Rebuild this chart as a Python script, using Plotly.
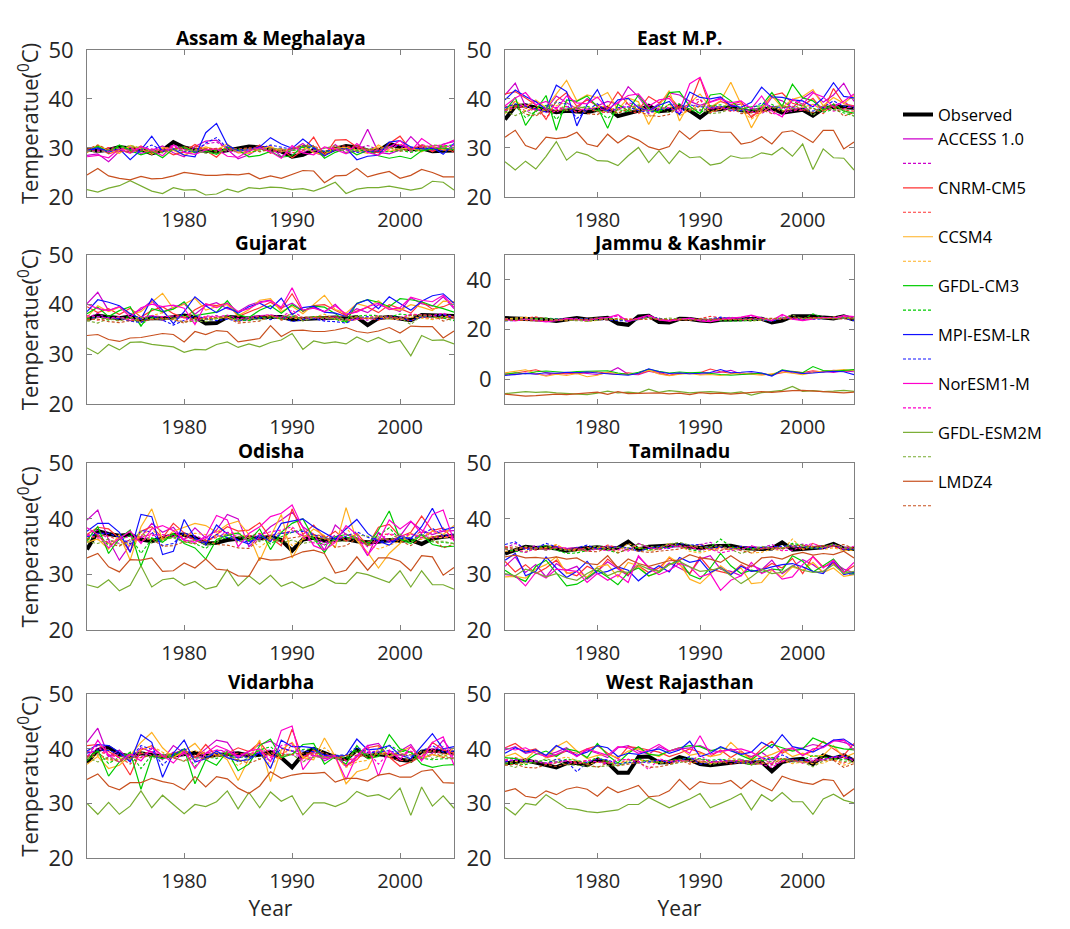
import plotly.graph_objects as go

years = list(range(1971, 2006))

# ---------------- Assam & Meghalaya ----------------
assam_obs = [29.8, 29.4, 29.6, 30.2, 29.9, 29.7, 28.9, 29.5, 31.2, 30.1, 29.6, 29.4, 29.2, 29.5, 29.8, 30.3, 30.1, 29.7, 29.3, 28.2, 28.6, 29.6, 28.9, 29.8, 30.4, 30.1, 29.5, 29.4, 30.8, 30.2, 29.7, 29.9, 29.3, 29.4, 29.5]
assam_access = [28.5, 28.8, 27.2, 29.3, 30.1, 28.9, 29.5, 30.4, 29.0, 28.2, 30.3, 31.4, 31.6, 29.6, 27.8, 28.6, 29.9, 30.4, 28.2, 29.6, 30.9, 29.1, 28.4, 30.7, 28.9, 29.4, 33.8, 29.1, 28.8, 29.6, 32.3, 30.1, 29.4, 30.8, 31.3]
assam_access_bc = [29.5, 29.2, 29.9, 30.0, 29.6, 29.8, 29.1, 29.7, 30.6, 29.9, 29.4, 30.8, 31.2, 29.8, 29.5, 30.0, 29.8, 29.6, 29.5, 28.9, 29.1, 29.8, 29.2, 29.6, 30.1, 29.9, 30.5, 29.6, 30.3, 30.6, 29.8, 30.2, 29.6, 29.7, 30.0]
assam_cnrm = [29.6, 30.2, 28.8, 29.5, 29.2, 30.4, 29.1, 29.8, 28.6, 29.2, 30.7, 29.5, 28.1, 30.3, 29.0, 29.3, 30.6, 28.9, 29.9, 28.0, 29.5, 32.2, 28.4, 31.6, 31.7, 30.2, 29.6, 29.0, 30.9, 32.4, 29.5, 30.6, 29.2, 30.4, 29.1]
assam_cnrm_bc = [29.7, 29.6, 30.1, 29.8, 29.5, 30.0, 29.4, 29.9, 30.2, 29.8, 30.4, 29.7, 29.3, 29.9, 29.6, 29.9, 30.2, 29.5, 29.8, 29.0, 29.4, 30.5, 29.1, 30.3, 30.4, 29.8, 29.7, 29.5, 30.4, 30.8, 29.6, 30.1, 29.5, 29.9, 29.6]
assam_ccsm4 = [29.0, 30.6, 29.4, 28.9, 30.5, 29.8, 28.7, 30.1, 29.5, 28.6, 29.3, 30.2, 29.6, 30.8, 29.1, 28.9, 29.7, 30.3, 29.2, 29.8, 30.5, 29.0, 28.7, 29.9, 30.1, 29.4, 28.9, 30.6, 29.3, 29.7, 30.0, 29.2, 30.4, 29.5, 30.2]
assam_ccsm4_bc = [29.6, 30.0, 29.7, 29.5, 30.1, 29.8, 29.3, 29.9, 30.0, 29.4, 29.6, 29.9, 29.7, 30.2, 29.5, 29.4, 29.8, 30.0, 29.6, 29.7, 30.1, 29.5, 29.3, 29.8, 29.9, 29.6, 29.4, 30.2, 29.7, 29.8, 30.0, 29.6, 30.1, 29.7, 30.0]
assam_gfdlcm3 = [29.2, 30.4, 29.0, 30.6, 29.5, 28.6, 29.3, 28.0, 29.8, 30.2, 29.0, 29.4, 28.7, 30.1, 29.6, 28.2, 28.5, 29.3, 28.1, 28.4, 30.4, 30.3, 27.9, 29.1, 29.9, 28.6, 29.5, 28.4, 27.9, 28.3, 27.8, 29.4, 29.8, 30.0, 29.6]
assam_gfdlcm3_bc = [29.5, 30.1, 29.4, 30.2, 29.7, 29.3, 29.6, 29.1, 29.8, 30.0, 29.5, 29.7, 29.4, 30.0, 29.8, 29.2, 29.4, 29.7, 29.3, 29.4, 30.1, 30.0, 29.2, 29.6, 29.9, 29.4, 29.7, 29.3, 29.2, 29.5, 29.1, 29.6, 29.8, 30.4, 30.6]
assam_mpi = [29.5, 30.0, 29.2, 29.8, 27.6, 29.6, 32.4, 29.3, 29.8, 28.5, 28.2, 33.1, 35.0, 30.6, 29.4, 29.6, 30.2, 32.1, 30.8, 29.9, 31.8, 30.0, 28.4, 29.6, 29.9, 27.6, 28.3, 28.5, 31.2, 31.5, 30.2, 29.7, 30.1, 28.7, 30.9]
assam_mpi_bc = [29.6, 29.8, 29.5, 29.7, 29.0, 29.6, 30.6, 29.5, 29.7, 29.3, 29.2, 31.0, 32.1, 30.0, 29.6, 29.7, 29.9, 30.6, 30.1, 29.7, 30.5, 29.9, 29.3, 29.6, 29.8, 29.1, 29.3, 29.4, 30.4, 30.5, 30.0, 29.8, 29.9, 29.4, 30.1]
assam_noresm = [28.2, 28.5, 28.0, 29.8, 28.9, 30.2, 29.5, 28.4, 30.6, 29.1, 28.7, 29.6, 29.8, 28.3, 28.1, 29.4, 30.0, 29.2, 27.9, 30.5, 29.0, 28.6, 30.2, 29.7, 28.8, 30.9, 29.1, 28.5, 30.1, 31.5, 29.3, 31.9, 30.4, 30.6, 31.6]
assam_noresm_bc = [29.3, 29.4, 29.2, 29.9, 29.5, 30.1, 29.8, 29.4, 30.2, 29.6, 29.4, 29.8, 29.9, 29.3, 29.2, 29.7, 30.0, 29.6, 29.1, 30.2, 29.6, 29.4, 30.0, 29.8, 29.5, 30.3, 29.6, 29.4, 30.0, 30.6, 29.7, 30.7, 30.1, 30.2, 30.5]
assam_gfdlesm = [21.5, 21.0, 21.8, 22.3, 23.3, 22.2, 21.2, 20.7, 21.9, 21.4, 21.5, 20.4, 20.6, 21.6, 21.0, 21.9, 21.7, 22.0, 21.9, 21.5, 21.7, 21.2, 22.0, 23.0, 20.7, 21.6, 21.9, 21.9, 22.2, 21.8, 21.4, 21.8, 23.2, 23.0, 21.4]
assam_gfdlesm_bc = [29.4, 29.1, 29.6, 29.9, 30.5, 30.0, 29.3, 29.0, 29.7, 29.4, 29.5, 28.9, 29.0, 29.6, 29.3, 29.8, 29.7, 29.9, 29.8, 29.5, 29.7, 29.4, 29.9, 30.5, 29.1, 29.6, 29.8, 29.8, 30.0, 29.7, 29.5, 29.7, 30.6, 30.5, 29.5]
assam_lmdz = [24.5, 25.8, 24.3, 23.8, 23.5, 24.2, 23.7, 23.8, 24.3, 25.0, 24.7, 24.4, 24.4, 24.6, 24.5, 24.8, 23.7, 24.3, 23.8, 24.6, 25.4, 25.3, 22.9, 24.3, 24.4, 25.8, 24.1, 24.7, 25.2, 23.8, 24.4, 25.6, 25.0, 24.1, 24.1]
assam_lmdz_bc = [29.7, 30.6, 29.6, 29.3, 29.1, 29.6, 29.2, 29.3, 29.7, 30.2, 30.0, 29.8, 29.8, 29.9, 29.8, 30.0, 29.2, 29.7, 29.3, 29.9, 30.4, 30.3, 28.6, 29.7, 29.8, 30.6, 29.5, 29.9, 30.3, 29.3, 29.8, 30.5, 30.1, 29.5, 29.5]

# ---------------- East M.P. ----------------
eastmp_obs = [35.8, 38.5, 38.7, 38.3, 37.8, 37.3, 37.6, 37.4, 37.3, 37.8, 38.1, 36.5, 37.0, 37.6, 38.6, 37.5, 37.7, 38.5, 37.6, 36.2, 37.8, 37.9, 38.4, 37.7, 37.5, 37.8, 38.1, 37.2, 37.6, 37.8, 36.6, 38.0, 38.4, 38.3, 38.2]
eastmp_access = [40.8, 43.2, 38.5, 39.6, 37.8, 40.6, 39.2, 38.0, 40.1, 38.6, 39.5, 38.9, 42.5, 40.4, 37.6, 39.0, 41.2, 40.8, 39.5, 38.7, 39.4, 40.2, 38.5, 39.0, 38.1, 37.5, 40.3, 39.6, 38.2, 40.1, 41.5, 39.3, 40.8, 43.2, 39.5]
eastmp_access_bc = [37.8, 39.6, 37.4, 38.0, 37.2, 38.3, 37.9, 37.3, 38.2, 37.6, 38.1, 37.7, 39.3, 38.4, 37.0, 37.8, 38.8, 38.6, 38.0, 37.6, 38.0, 38.4, 37.5, 37.8, 37.3, 37.0, 38.5, 38.1, 37.4, 38.3, 38.9, 37.9, 38.6, 39.5, 38.0]
eastmp_cnrm = [41.0, 41.5, 40.2, 38.8, 35.8, 39.6, 41.3, 38.5, 39.8, 38.6, 38.2, 41.4, 38.9, 37.7, 40.5, 39.2, 40.6, 38.1, 38.9, 44.3, 38.2, 39.5, 38.8, 39.5, 36.2, 38.1, 40.7, 41.2, 39.1, 38.6, 40.1, 37.5, 42.1, 39.0, 38.6]
eastmp_cnrm_bc = [38.4, 38.7, 38.1, 37.5, 36.3, 37.8, 38.5, 37.3, 38.0, 37.4, 37.2, 38.6, 37.6, 37.0, 38.2, 37.8, 38.3, 37.2, 37.6, 39.8, 37.2, 37.9, 37.5, 37.9, 36.6, 37.3, 38.4, 38.6, 37.8, 37.6, 38.1, 37.0, 39.0, 37.7, 37.5]
eastmp_ccsm4 = [37.2, 39.5, 38.3, 39.8, 38.2, 41.0, 43.8, 39.6, 40.8, 40.2, 41.3, 37.8, 40.2, 39.4, 34.8, 38.6, 41.7, 35.5, 39.2, 41.0, 38.3, 39.6, 43.4, 38.9, 34.1, 37.8, 40.6, 38.2, 39.9, 40.5, 41.9, 38.6, 40.3, 39.1, 40.7]
eastmp_ccsm4_bc = [37.0, 38.2, 37.6, 38.3, 37.5, 38.6, 39.4, 37.9, 38.4, 38.2, 38.7, 37.1, 38.2, 37.9, 36.2, 37.5, 38.9, 36.5, 37.8, 38.6, 37.4, 37.9, 39.6, 37.7, 35.9, 37.2, 38.4, 37.5, 38.0, 38.3, 38.9, 37.6, 38.2, 37.9, 38.5]
eastmp_gfdlcm3 = [37.5, 40.3, 34.6, 37.6, 40.7, 33.6, 39.8, 39.5, 40.6, 38.4, 34.0, 38.9, 37.6, 40.8, 38.0, 37.2, 41.3, 41.5, 38.5, 37.0, 40.8, 41.1, 39.6, 37.9, 38.4, 38.6, 41.3, 38.5, 43.0, 40.2, 39.6, 37.8, 38.9, 37.5, 37.1]
eastmp_gfdlcm3_bc = [37.3, 38.6, 36.2, 37.5, 38.7, 35.8, 38.1, 38.0, 38.5, 37.7, 36.0, 37.9, 37.3, 38.6, 37.6, 37.2, 38.9, 39.0, 37.8, 37.1, 38.6, 38.8, 38.1, 37.5, 37.7, 37.8, 38.9, 37.7, 39.7, 38.4, 38.1, 37.3, 37.8, 37.2, 36.5]
eastmp_mpi = [39.8, 41.8, 40.5, 39.4, 37.9, 42.8, 41.5, 34.5, 38.9, 41.9, 37.5, 39.8, 40.1, 38.2, 37.6, 38.7, 39.5, 36.8, 41.4, 40.3, 40.0, 40.4, 38.6, 38.3, 39.3, 42.4, 40.4, 40.3, 39.8, 39.6, 38.4, 40.2, 43.3, 40.5, 40.2]
eastmp_mpi_bc = [38.2, 39.0, 38.5, 38.0, 37.3, 39.4, 38.9, 36.0, 37.7, 39.0, 37.2, 38.2, 38.4, 37.6, 37.3, 37.8, 38.1, 36.9, 38.8, 38.4, 38.3, 38.5, 37.7, 37.6, 38.0, 39.2, 38.4, 38.3, 38.1, 38.0, 37.5, 38.3, 39.6, 38.5, 38.3]
eastmp_noresm = [38.6, 40.2, 41.3, 38.8, 39.5, 37.9, 40.6, 39.2, 39.0, 40.4, 37.9, 39.3, 40.7, 41.0, 38.5, 39.8, 40.1, 37.6, 43.1, 44.4, 39.3, 40.0, 39.2, 39.6, 38.0, 40.6, 37.5, 36.3, 39.9, 38.9, 41.2, 40.4, 38.3, 39.5, 41.0]
eastmp_noresm_bc = [37.6, 38.3, 38.8, 37.7, 38.0, 37.3, 38.4, 37.9, 37.8, 38.3, 37.3, 37.9, 38.5, 38.6, 37.6, 38.1, 38.2, 37.2, 39.4, 40.0, 37.9, 38.2, 37.9, 38.0, 37.3, 38.4, 37.1, 36.6, 38.1, 37.7, 38.7, 38.4, 37.5, 38.0, 38.6]
eastmp_gfdlesm = [27.2, 25.5, 27.3, 25.7, 28.3, 31.3, 27.5, 29.2, 28.6, 27.4, 27.3, 26.4, 28.4, 30.1, 27.0, 29.4, 26.8, 29.4, 28.0, 28.2, 26.5, 26.9, 28.4, 27.9, 28.0, 29.0, 28.6, 30.1, 28.3, 30.8, 25.6, 29.8, 28.0, 27.9, 25.5]
eastmp_gfdlesm_bc = [37.4, 36.6, 37.5, 36.7, 38.0, 39.4, 37.6, 38.4, 38.1, 37.5, 37.4, 37.0, 38.0, 38.8, 37.3, 38.5, 37.2, 38.5, 37.8, 37.9, 37.0, 37.2, 38.0, 37.7, 37.8, 38.3, 38.1, 38.8, 38.0, 39.1, 36.6, 38.7, 37.8, 37.7, 36.5]
eastmp_lmdz = [32.2, 33.6, 30.5, 29.7, 32.2, 31.9, 32.2, 33.2, 30.8, 30.3, 32.8, 31.0, 32.5, 31.6, 30.2, 29.6, 30.3, 33.5, 31.8, 33.5, 33.6, 33.2, 33.2, 30.8, 31.2, 32.3, 30.8, 33.2, 33.5, 32.4, 31.1, 33.6, 33.6, 29.8, 31.2]
eastmp_lmdz_bc = [37.8, 38.6, 36.9, 36.5, 37.8, 37.6, 37.8, 38.3, 37.0, 36.8, 38.1, 37.1, 37.9, 37.4, 36.7, 36.4, 36.8, 38.5, 37.5, 38.5, 38.6, 38.3, 38.3, 37.0, 37.2, 37.8, 37.0, 38.3, 38.5, 37.9, 37.2, 38.6, 38.6, 36.5, 37.2]

# ---------------- Gujarat ----------------
gujarat_obs = [37.0, 37.8, 37.5, 37.3, 37.6, 37.0, 37.3, 37.2, 37.5, 37.8, 37.5, 36.2, 36.3, 37.5, 37.4, 37.2, 37.5, 37.6, 37.5, 37.0, 37.1, 37.4, 37.3, 37.4, 37.2, 37.5, 35.9, 37.3, 37.5, 37.3, 36.9, 37.9, 37.8, 37.6, 37.7]
gujarat_access = [40.2, 42.5, 38.8, 39.6, 38.0, 39.0, 40.8, 38.4, 39.5, 40.2, 38.1, 39.8, 40.4, 39.2, 38.6, 39.9, 40.6, 40.9, 39.3, 40.3, 38.8, 39.5, 38.6, 40.1, 37.8, 39.2, 38.4, 40.0, 39.4, 38.6, 41.4, 40.2, 39.7, 41.6, 39.2]
gujarat_access_bc = [37.3, 38.3, 37.0, 37.4, 36.8, 37.2, 37.9, 36.9, 37.3, 37.6, 36.8, 37.5, 37.8, 37.2, 37.0, 37.5, 37.8, 37.9, 37.3, 37.7, 37.0, 37.3, 36.9, 37.6, 36.6, 37.2, 36.9, 37.5, 37.3, 36.9, 37.9, 37.6, 37.4, 38.1, 37.2]
gujarat_cnrm = [39.6, 38.4, 39.2, 38.0, 39.3, 37.5, 38.8, 39.6, 38.2, 37.3, 39.0, 40.1, 39.8, 40.3, 37.6, 38.5, 39.4, 40.5, 39.1, 42.2, 38.6, 39.8, 40.0, 38.9, 37.8, 38.7, 39.5, 38.4, 40.0, 39.2, 38.3, 40.6, 39.1, 39.6, 40.5]
gujarat_cnrm_bc = [37.4, 36.9, 37.3, 36.8, 37.3, 36.5, 37.1, 37.4, 36.9, 36.6, 37.2, 37.5, 37.4, 37.6, 36.6, 37.0, 37.3, 37.7, 37.2, 38.3, 36.9, 37.4, 37.5, 37.1, 36.7, 37.0, 37.3, 36.9, 37.5, 37.2, 36.8, 37.6, 37.1, 37.3, 37.6]
gujarat_ccsm4 = [37.5, 39.8, 38.6, 39.5, 38.1, 38.6, 40.5, 42.3, 39.2, 40.1, 41.3, 38.9, 39.6, 40.0, 37.8, 39.0, 40.9, 41.2, 38.6, 39.7, 38.2, 40.1, 41.9, 39.0, 38.3, 40.2, 39.6, 40.8, 39.1, 38.9, 40.0, 39.5, 38.8, 40.7, 40.6]
gujarat_ccsm4_bc = [36.7, 37.5, 37.1, 37.4, 36.9, 37.1, 37.8, 38.4, 37.2, 37.5, 37.9, 37.0, 37.3, 37.5, 36.7, 37.1, 37.7, 37.9, 37.0, 37.4, 36.9, 37.5, 38.1, 37.1, 36.8, 37.5, 37.2, 37.7, 37.1, 37.0, 37.5, 37.3, 37.0, 37.7, 37.6]
gujarat_gfdlcm3 = [38.2, 39.5, 37.6, 38.8, 39.6, 35.6, 39.2, 38.6, 39.1, 40.6, 37.8, 38.2, 38.5, 40.8, 38.0, 37.4, 38.9, 39.8, 38.3, 40.0, 38.7, 39.7, 39.5, 38.2, 36.5, 40.3, 41.0, 40.5, 39.6, 41.2, 41.0, 40.6, 39.8, 39.2, 38.5]
gujarat_gfdlcm3_bc = [37.2, 37.6, 36.9, 37.3, 37.6, 36.0, 37.4, 37.2, 37.3, 37.9, 36.9, 37.1, 37.2, 37.9, 36.9, 36.8, 37.3, 37.6, 37.1, 37.7, 37.2, 37.6, 37.5, 37.1, 36.4, 37.7, 37.9, 37.8, 37.5, 38.1, 37.9, 37.8, 37.5, 37.3, 36.8]
gujarat_mpi = [38.6, 41.0, 40.5, 39.8, 38.2, 37.1, 41.2, 38.9, 36.2, 38.6, 41.6, 39.8, 38.4, 39.5, 38.3, 39.6, 40.3, 39.2, 41.3, 38.0, 39.4, 39.7, 38.5, 38.3, 37.6, 40.2, 41.0, 39.2, 41.6, 40.2, 38.9, 40.7, 41.8, 42.2, 40.3]
gujarat_mpi_bc = [36.9, 37.6, 37.4, 37.2, 36.7, 36.4, 37.7, 36.9, 35.9, 36.8, 37.8, 37.2, 36.8, 37.1, 36.7, 37.1, 37.4, 37.0, 37.6, 36.6, 37.0, 37.2, 36.7, 36.6, 36.3, 37.3, 37.6, 37.0, 37.8, 37.3, 36.8, 37.5, 37.8, 38.0, 37.4]
gujarat_noresm = [40.1, 39.2, 38.8, 39.6, 37.5, 39.4, 40.1, 39.6, 39.9, 39.3, 36.0, 40.2, 39.4, 40.3, 38.6, 39.2, 40.4, 40.8, 39.5, 43.4, 38.9, 39.3, 38.6, 39.8, 38.1, 38.5, 39.6, 40.3, 39.0, 39.4, 41.5, 40.9, 40.6, 41.9, 39.5]
gujarat_noresm_bc = [37.8, 37.5, 37.3, 37.6, 36.9, 37.5, 37.8, 37.6, 37.7, 37.4, 36.3, 37.8, 37.5, 37.9, 37.2, 37.4, 37.8, 38.0, 37.5, 38.9, 37.3, 37.4, 37.2, 37.6, 37.0, 37.1, 37.5, 37.8, 37.3, 37.4, 38.1, 37.9, 37.8, 38.3, 37.5]
gujarat_gfdlesm = [31.3, 30.1, 32.0, 30.9, 32.4, 32.5, 32.0, 31.8, 31.5, 30.4, 31.0, 30.9, 32.0, 32.5, 31.4, 32.1, 31.5, 32.4, 32.9, 34.2, 31.0, 32.7, 32.2, 32.5, 32.1, 33.5, 32.5, 33.4, 32.3, 32.8, 29.7, 33.8, 32.8, 32.9, 32.1]
gujarat_gfdlesm_bc = [36.8, 36.3, 37.2, 36.7, 37.4, 37.4, 37.2, 37.1, 37.0, 36.5, 36.7, 36.6, 37.2, 37.4, 36.9, 37.2, 36.9, 37.3, 37.5, 38.1, 36.7, 37.4, 37.2, 37.3, 37.1, 37.7, 37.3, 37.6, 37.2, 37.4, 36.0, 37.9, 37.4, 37.5, 37.1]
gujarat_lmdz = [33.8, 34.0, 33.0, 32.6, 33.3, 33.4, 33.8, 34.2, 34.0, 32.5, 34.6, 34.0, 34.8, 34.6, 32.5, 32.8, 33.2, 35.8, 33.6, 34.8, 34.9, 34.6, 34.6, 34.9, 35.4, 34.6, 34.3, 34.7, 35.4, 34.3, 35.7, 35.6, 35.6, 33.3, 34.7]
gujarat_lmdz_bc = [37.0, 37.1, 36.6, 36.4, 36.8, 36.8, 37.0, 37.2, 37.1, 36.3, 37.4, 37.1, 37.5, 37.4, 36.3, 36.5, 36.7, 37.9, 36.9, 37.5, 37.5, 37.4, 37.4, 37.5, 37.8, 37.4, 37.2, 37.4, 37.8, 37.2, 37.9, 37.9, 37.9, 36.7, 37.4]

# ---------------- Jammu & Kashmir ----------------
jk_obs = [24.6, 24.4, 24.5, 24.3, 23.9, 23.4, 24.1, 24.6, 24.0, 24.5, 24.7, 22.4, 21.9, 25.3, 25.5, 23.0, 22.8, 24.3, 24.2, 23.6, 23.3, 23.9, 24.0, 24.5, 24.4, 24.3, 22.9, 23.6, 25.3, 25.5, 25.3, 24.8, 24.5, 25.3, 24.0]
jk_access = [2.2, 1.8, 2.5, 2.0, 1.6, 2.4, 2.1, 2.7, 2.3, 1.9, 2.6, 4.6, 2.0, 1.8, 3.2, 2.4, 1.5, 2.2, 2.6, 2.0, 2.3, 2.8, 3.6, 2.1, 2.5, 2.0, 1.7, 3.4, 2.6, 2.2, 2.9, 3.1, 2.7, 3.3, 3.0]
jk_access_bc = [24.2, 23.9, 24.3, 24.1, 23.7, 24.0, 24.2, 24.5, 24.1, 23.9, 24.4, 25.6, 23.5, 24.0, 25.2, 24.1, 23.6, 24.0, 24.3, 23.8, 24.0, 24.4, 25.0, 23.9, 24.2, 23.8, 23.6, 24.6, 24.4, 24.1, 24.5, 24.7, 24.4, 24.9, 24.6]
jk_cnrm = [1.8, 2.4, 2.9, 3.8, 2.6, 1.9, 2.5, 2.2, 2.8, 3.0, 2.3, 1.9, 2.6, 2.1, 3.4, 2.8, 1.6, 2.4, 2.2, 2.6, 4.1, 3.0, 2.4, 1.9, 2.3, 2.1, 1.8, 2.6, 3.2, 2.7, 3.4, 2.9, 3.6, 3.2, 3.8]
jk_cnrm_bc = [23.9, 24.3, 24.6, 25.1, 24.4, 23.8, 24.3, 24.1, 24.5, 24.6, 24.2, 23.9, 24.4, 24.0, 24.9, 24.5, 23.6, 24.2, 24.0, 24.4, 25.3, 24.6, 24.2, 23.9, 24.1, 24.0, 23.8, 24.3, 24.7, 24.4, 24.8, 24.6, 25.0, 24.7, 25.1]
jk_ccsm4 = [2.6, 3.1, 3.8, 2.4, 1.2, 2.0, 1.5, 2.3, 1.0, 1.6, 2.9, 2.2, 1.8, 2.5, 3.6, 2.1, 1.4, 2.0, 2.3, 1.7, 1.9, 1.5, 2.2, 2.6, 2.0, 1.6, 2.2, 2.9, 2.4, 1.8, 2.7, 3.3, 3.5, 3.9, 3.4]
jk_ccsm4_bc = [24.2, 24.5, 25.0, 24.1, 23.4, 23.8, 23.5, 24.0, 23.3, 23.7, 24.4, 24.0, 23.8, 24.2, 24.9, 24.0, 23.5, 23.9, 24.1, 23.7, 23.8, 23.6, 24.0, 24.3, 23.9, 23.6, 24.0, 24.5, 24.2, 23.8, 24.4, 24.8, 24.9, 25.2, 24.8]
jk_gfdlcm3 = [2.0, 2.6, 2.2, 3.0, 3.3, 2.9, 2.7, 3.1, 3.2, 3.6, 3.4, 2.5, 1.9, 2.8, 4.0, 3.2, 2.5, 2.9, 2.6, 2.8, 2.3, 1.9, 1.6, 1.8, 2.2, 2.4, 1.5, 3.8, 3.1, 2.6, 5.1, 3.5, 3.2, 3.7, 3.9]
jk_gfdlcm3_bc = [23.8, 24.2, 23.9, 24.4, 24.6, 24.3, 24.2, 24.4, 24.5, 24.8, 24.6, 24.0, 23.6, 24.2, 25.0, 24.5, 24.0, 24.3, 24.1, 24.2, 23.9, 23.6, 23.4, 23.5, 23.8, 24.0, 23.3, 24.9, 24.5, 24.1, 26.3, 24.8, 24.5, 24.9, 25.2]
jk_mpi = [1.5, 1.8, 2.3, 2.1, 2.6, 2.4, 2.8, 2.6, 2.9, 2.5, 2.2, 1.8, 1.6, 2.4, 4.2, 3.0, 2.3, 2.5, 2.2, 2.4, 2.7, 3.9, 2.6, 2.8, 3.1, 2.5, 1.3, 3.6, 2.9, 2.3, 2.5, 2.9, 3.2, 3.0, 1.8]
jk_mpi_bc = [23.5, 23.6, 24.0, 23.9, 24.2, 24.1, 24.3, 24.2, 24.4, 24.1, 23.9, 23.6, 23.4, 24.0, 25.3, 24.5, 24.0, 24.1, 23.9, 24.0, 24.2, 25.0, 24.2, 24.3, 24.5, 24.1, 23.2, 24.8, 24.4, 24.0, 24.1, 24.4, 24.6, 24.5, 23.6]
jk_noresm = [24.0, 23.5, 24.2, 23.8, 23.1, 23.6, 24.4, 24.1, 23.6, 24.5, 24.8, 26.0, 23.2, 24.6, 25.8, 23.9, 23.4, 24.1, 24.6, 23.5, 23.2, 24.0, 24.4, 25.0, 25.8, 24.6, 23.5, 26.1, 24.2, 23.6, 24.3, 24.9, 24.5, 25.6, 25.2]
jk_noresm_bc = [24.1, 23.8, 24.3, 24.0, 23.5, 23.9, 24.4, 24.2, 23.9, 24.5, 24.7, 25.5, 23.6, 24.5, 25.4, 24.0, 23.7, 24.2, 24.5, 23.8, 23.6, 24.1, 24.4, 24.8, 25.3, 24.5, 23.8, 25.6, 24.3, 23.9, 24.4, 24.8, 24.5, 25.3, 25.0]
jk_gfdlesm = [-5.8, -5.4, -5.0, -5.3, -5.1, -5.5, -5.8, -6.1, -6.2, -5.6, -4.8, -5.5, -5.2, -5.6, -4.0, -5.3, -4.6, -5.0, -5.5, -5.2, -5.0, -5.3, -5.6, -5.1, -6.4, -5.4, -4.8, -4.5, -2.9, -4.9, -4.6, -5.0, -4.8, -4.5, -4.9]
jk_gfdlesm_bc = [23.6, 24.0, 24.3, 24.1, 24.2, 23.9, 23.7, 23.5, 23.4, 23.8, 24.4, 23.9, 24.1, 23.8, 25.0, 24.1, 24.6, 24.3, 23.9, 24.1, 24.3, 24.1, 23.9, 24.2, 23.3, 24.0, 24.4, 24.6, 25.8, 24.3, 24.5, 24.3, 24.4, 24.6, 24.3]
jk_lmdz = [-6.0, -6.3, -6.8, -6.6, -6.3, -6.0, -6.2, -5.9, -5.7, -5.2, -6.1, -5.0, -5.8, -5.6, -5.4, -5.5, -5.9, -5.6, -6.2, -5.4, -5.8, -5.6, -6.0, -5.7, -5.2, -5.0, -5.3, -4.8, -4.6, -4.5, -4.7, -4.9, -5.2, -5.5, -5.2]
jk_lmdz_bc = [23.9, 23.7, 23.4, 23.5, 23.7, 23.9, 23.8, 24.0, 24.1, 24.4, 23.8, 24.5, 24.0, 24.1, 24.3, 24.2, 24.0, 24.1, 23.7, 24.3, 24.0, 24.1, 23.9, 24.1, 24.4, 24.5, 24.3, 24.6, 24.7, 24.8, 24.7, 24.6, 24.4, 24.2, 24.4]

# ---------------- Odisha ----------------
odisha_obs = [34.5, 37.8, 37.3, 37.0, 37.2, 36.3, 36.0, 36.5, 37.1, 37.2, 36.6, 35.6, 35.7, 36.2, 36.4, 36.7, 36.5, 36.8, 36.2, 34.3, 36.3, 36.6, 36.1, 36.2, 36.4, 36.0, 35.8, 35.9, 36.2, 36.1, 36.2, 35.5, 36.5, 36.8, 37.0]
odisha_access = [39.8, 41.6, 36.2, 32.6, 35.4, 36.8, 39.2, 37.6, 38.5, 36.2, 38.4, 36.6, 38.0, 40.8, 40.0, 35.0, 36.8, 38.6, 39.8, 41.2, 38.6, 37.2, 34.4, 38.9, 37.2, 36.5, 33.4, 37.6, 35.8, 36.9, 39.5, 38.0, 37.2, 37.8, 37.9]
odisha_access_bc = [37.0, 38.0, 36.3, 35.6, 36.2, 36.6, 37.4, 36.8, 37.1, 36.4, 37.0, 36.3, 36.8, 37.6, 37.3, 35.9, 36.5, 37.1, 37.4, 37.9, 37.0, 36.6, 35.7, 37.1, 36.6, 36.4, 35.5, 36.8, 36.1, 36.5, 37.3, 36.9, 36.6, 36.8, 36.9]
odisha_cnrm = [37.2, 38.5, 38.2, 36.5, 34.2, 37.8, 38.6, 36.6, 39.2, 37.5, 36.2, 35.8, 37.2, 38.6, 37.8, 38.0, 39.3, 36.6, 35.2, 41.8, 37.2, 38.9, 36.5, 37.8, 36.0, 37.4, 35.2, 38.5, 39.0, 36.8, 37.6, 40.5, 37.9, 38.4, 36.2]
odisha_cnrm_bc = [36.5, 37.1, 36.9, 36.2, 35.5, 36.8, 37.2, 36.4, 37.4, 36.7, 36.3, 36.1, 36.6, 37.2, 36.9, 36.9, 37.4, 36.4, 35.9, 38.3, 36.6, 37.3, 36.3, 36.8, 36.1, 36.6, 35.8, 37.1, 37.3, 36.4, 36.7, 37.8, 36.8, 37.0, 36.2]
odisha_ccsm4 = [35.8, 36.4, 34.6, 37.2, 32.6, 38.6, 41.8, 36.2, 37.8, 38.5, 39.2, 38.8, 37.6, 39.0, 39.6, 37.2, 32.5, 36.8, 40.8, 33.0, 36.5, 38.2, 37.0, 34.8, 42.0, 36.1, 34.0, 31.2, 33.8, 35.6, 37.4, 36.6, 37.8, 37.2, 38.8]
odisha_ccsm4_bc = [36.0, 36.3, 35.6, 36.7, 35.0, 37.1, 38.2, 36.2, 36.8, 37.1, 37.4, 37.2, 36.8, 37.3, 37.5, 36.6, 34.9, 36.4, 37.9, 35.2, 36.3, 36.9, 36.5, 35.7, 38.4, 36.1, 35.4, 34.6, 35.3, 36.0, 36.6, 36.3, 36.8, 36.6, 37.1]
odisha_gfdlcm3 = [36.2, 38.6, 33.8, 36.5, 38.0, 31.5, 36.6, 35.8, 37.4, 35.6, 34.8, 32.8, 36.3, 37.0, 37.5, 36.0, 38.2, 34.5, 37.6, 39.2, 40.0, 36.5, 34.0, 36.8, 37.2, 36.6, 35.2, 38.0, 41.4, 36.4, 35.6, 37.2, 35.4, 35.0, 35.1]
odisha_gfdlcm3_bc = [36.1, 37.4, 35.2, 36.3, 37.0, 33.8, 36.4, 36.0, 36.8, 35.9, 35.6, 34.7, 36.2, 36.6, 36.8, 36.1, 37.1, 35.5, 36.8, 37.6, 38.1, 36.3, 35.3, 36.5, 36.7, 36.4, 35.7, 37.0, 38.4, 36.3, 36.0, 37.4, 35.9, 35.8, 35.6]
odisha_mpi = [37.8, 39.2, 39.2, 37.6, 34.0, 40.8, 40.4, 33.6, 34.2, 39.9, 36.6, 35.4, 38.9, 37.3, 36.2, 35.5, 37.2, 35.9, 39.2, 39.6, 40.0, 38.6, 37.5, 36.4, 38.2, 39.9, 37.4, 36.0, 35.3, 36.8, 36.5, 38.6, 41.9, 38.0, 38.5]
odisha_mpi_bc = [36.8, 37.4, 37.4, 36.7, 35.5, 37.9, 37.7, 35.2, 35.6, 37.6, 36.3, 35.8, 37.2, 36.6, 36.1, 35.9, 36.6, 36.0, 37.4, 37.6, 37.8, 37.1, 36.6, 36.2, 36.9, 37.7, 36.7, 36.1, 35.8, 36.5, 36.4, 37.2, 38.3, 37.0, 37.3]
odisha_noresm = [38.4, 37.2, 34.8, 36.5, 37.8, 35.6, 38.2, 38.8, 37.9, 36.2, 35.8, 36.9, 40.6, 39.8, 35.0, 37.4, 38.6, 40.4, 41.0, 42.5, 38.4, 35.2, 34.4, 35.8, 38.8, 37.2, 33.5, 36.0, 39.8, 38.2, 39.6, 37.4, 40.8, 41.6, 36.0]
odisha_noresm_bc = [37.1, 36.6, 35.8, 36.4, 36.9, 35.9, 37.0, 37.2, 36.9, 36.2, 36.0, 36.5, 37.8, 37.5, 35.8, 36.6, 37.1, 37.7, 38.0, 38.6, 36.8, 35.7, 35.4, 36.0, 37.3, 36.5, 35.0, 36.1, 37.4, 36.9, 37.3, 36.6, 37.6, 38.0, 36.2]
odisha_gfdlesm = [28.2, 27.7, 29.1, 27.1, 28.1, 31.6, 27.8, 29.1, 29.4, 28.1, 28.8, 27.4, 27.9, 30.9, 28.0, 29.8, 28.3, 29.9, 27.9, 28.7, 27.6, 28.3, 29.5, 28.5, 28.4, 30.4, 30.0, 29.3, 28.6, 30.7, 27.8, 30.7, 28.2, 28.2, 27.4]
odisha_gfdlesm_bc = [35.9, 35.6, 36.4, 35.3, 35.9, 37.8, 35.7, 36.4, 36.6, 35.9, 36.2, 35.4, 35.7, 37.4, 35.8, 36.8, 35.9, 36.8, 35.7, 36.2, 35.6, 36.0, 36.6, 36.1, 36.0, 37.1, 36.9, 36.5, 36.2, 37.3, 35.7, 37.3, 36.0, 36.0, 35.5]
odisha_lmdz = [33.0, 33.8, 31.4, 30.5, 32.7, 32.6, 33.0, 30.6, 30.7, 32.1, 31.2, 32.8, 31.0, 30.8, 29.8, 29.7, 33.0, 32.6, 32.7, 33.3, 34.1, 34.4, 33.8, 30.3, 30.8, 33.2, 30.8, 33.0, 33.0, 32.4, 30.7, 33.4, 33.2, 29.9, 31.3]
odisha_lmdz_bc = [36.4, 36.9, 35.6, 35.1, 36.3, 36.2, 36.4, 35.1, 35.2, 35.9, 35.5, 36.3, 35.4, 35.3, 34.8, 34.7, 36.4, 36.2, 36.3, 36.6, 37.0, 37.2, 36.9, 34.9, 35.2, 36.5, 35.2, 36.4, 36.4, 36.1, 35.2, 36.6, 36.5, 34.8, 35.5]

# ---------------- Tamilnadu ----------------
tamil_obs = [33.8, 34.4, 35.0, 34.8, 34.9, 34.7, 34.3, 34.6, 34.8, 34.9, 34.7, 34.8, 35.9, 34.5, 35.0, 35.1, 35.3, 35.3, 35.0, 34.8, 35.1, 35.1, 35.2, 34.8, 34.7, 34.6, 34.7, 35.8, 34.5, 34.6, 34.8, 34.9, 35.5, 34.7, 34.6]
tamil_access = [31.5, 33.2, 30.4, 31.8, 29.6, 32.0, 30.8, 31.5, 29.2, 30.6, 32.3, 31.0, 29.8, 33.2, 31.4, 30.6, 32.1, 31.2, 30.2, 32.8, 33.4, 31.0, 30.6, 29.8, 31.7, 30.9, 32.6, 30.2, 31.4, 32.7, 31.8, 30.5, 32.2, 31.0, 30.3]
tamil_access_bc = [34.8, 35.6, 34.6, 35.2, 34.4, 35.0, 34.7, 34.9, 34.3, 34.8, 35.2, 34.8, 34.5, 35.6, 34.9, 34.7, 35.3, 35.0, 34.6, 35.4, 35.8, 34.9, 34.8, 34.5, 35.1, 34.8, 35.4, 34.6, 35.0, 35.5, 35.1, 34.7, 35.3, 34.9, 34.6]
tamil_cnrm = [32.4, 30.5, 31.8, 30.2, 31.2, 32.6, 30.4, 29.8, 31.5, 30.6, 32.8, 31.3, 30.0, 31.6, 30.4, 31.2, 33.0, 31.8, 30.2, 33.2, 31.0, 30.5, 30.1, 31.8, 30.6, 30.8, 32.0, 31.2, 32.9, 30.2, 33.3, 31.4, 32.0, 30.4, 31.6]
tamil_cnrm_bc = [35.1, 34.5, 34.9, 34.4, 34.8, 35.3, 34.5, 34.3, 34.9, 34.6, 35.3, 34.8, 34.4, 35.0, 34.5, 34.8, 35.4, 35.1, 34.5, 35.5, 34.8, 34.6, 34.5, 35.1, 34.6, 34.7, 35.0, 34.8, 35.4, 34.4, 35.6, 34.9, 35.0, 34.5, 34.9]
tamil_ccsm4 = [29.6, 29.7, 29.4, 31.0, 31.8, 33.2, 30.2, 30.6, 29.6, 31.4, 31.8, 29.6, 32.2, 31.6, 29.7, 30.6, 33.2, 32.0, 29.2, 28.4, 30.1, 31.6, 30.2, 31.2, 28.4, 28.6, 30.8, 29.6, 31.4, 30.8, 32.2, 30.4, 31.2, 29.7, 30.0]
tamil_ccsm4_bc = [34.2, 34.3, 34.2, 34.7, 34.9, 35.4, 34.4, 34.5, 34.2, 34.8, 34.9, 34.2, 35.6, 34.8, 34.3, 34.5, 35.7, 35.2, 34.2, 33.9, 34.4, 34.9, 34.5, 34.8, 33.9, 34.0, 34.6, 34.3, 36.4, 34.6, 35.1, 34.5, 34.8, 34.3, 34.4]
tamil_gfdlcm3 = [30.8, 29.6, 28.8, 31.5, 32.6, 30.2, 28.0, 28.3, 29.4, 30.8, 29.6, 28.2, 30.4, 31.2, 29.8, 30.4, 31.8, 32.6, 30.0, 29.2, 31.2, 33.8, 31.6, 30.2, 30.8, 30.4, 31.0, 30.8, 33.4, 32.4, 30.5, 31.6, 32.8, 30.6, 30.2]
tamil_gfdlcm3_bc = [34.6, 34.2, 34.0, 34.8, 35.2, 34.4, 33.8, 33.9, 34.3, 34.7, 34.4, 33.9, 34.6, 34.9, 34.4, 34.6, 35.0, 35.3, 34.5, 34.2, 34.9, 36.4, 35.0, 34.5, 34.7, 34.6, 34.8, 34.7, 35.6, 35.3, 34.6, 35.0, 35.4, 34.7, 34.5]
tamil_mpi = [32.6, 33.8, 29.8, 30.6, 33.2, 31.2, 29.5, 30.6, 32.4, 30.2, 30.6, 31.4, 30.8, 28.9, 30.4, 31.6, 30.5, 33.1, 32.2, 32.6, 30.4, 31.3, 30.0, 31.5, 30.6, 30.9, 31.4, 31.8, 32.0, 31.4, 30.6, 30.2, 32.5, 30.0, 30.4]
tamil_mpi_bc = [35.4, 35.9, 34.5, 34.8, 35.6, 35.0, 34.4, 34.8, 35.3, 34.6, 34.8, 35.0, 34.8, 34.2, 34.7, 35.1, 34.7, 35.6, 35.3, 35.4, 34.7, 35.0, 34.6, 35.1, 34.8, 34.9, 35.0, 35.2, 35.2, 35.0, 34.8, 34.6, 35.4, 34.5, 34.6]
tamil_noresm = [30.0, 29.8, 28.0, 30.4, 29.4, 31.0, 30.8, 30.6, 28.6, 30.2, 29.0, 30.0, 28.6, 33.4, 31.2, 30.0, 30.8, 32.0, 31.4, 29.6, 30.2, 27.2, 29.0, 29.8, 32.2, 30.2, 31.0, 29.2, 29.6, 31.8, 33.2, 31.2, 32.6, 30.4, 32.2]
tamil_noresm_bc = [34.6, 34.5, 34.0, 34.7, 34.4, 34.9, 34.8, 34.7, 34.2, 34.6, 34.3, 34.5, 34.2, 35.6, 34.9, 34.5, 34.8, 35.2, 35.0, 34.4, 34.6, 33.9, 34.3, 34.5, 35.2, 34.6, 34.9, 34.3, 34.4, 35.1, 35.6, 34.9, 35.3, 34.6, 35.1]
tamil_gfdlesm = [30.2, 29.8, 31.0, 30.4, 29.6, 30.2, 29.4, 29.0, 30.2, 31.2, 29.8, 30.6, 30.4, 31.8, 31.0, 30.6, 31.8, 32.4, 31.4, 30.6, 30.8, 31.2, 29.8, 28.4, 29.6, 31.0, 30.2, 30.4, 31.6, 30.8, 30.4, 30.6, 31.8, 30.2, 30.6]
tamil_gfdlesm_bc = [34.7, 34.5, 35.1, 34.8, 34.4, 34.7, 34.3, 34.1, 34.7, 35.2, 34.5, 34.9, 34.8, 35.5, 35.1, 34.9, 35.5, 35.8, 35.3, 34.9, 35.0, 35.2, 34.5, 33.8, 34.4, 35.1, 34.7, 34.8, 35.4, 35.0, 34.8, 34.9, 35.5, 34.7, 34.9]
tamil_lmdz = [33.2, 33.5, 33.0, 33.1, 32.9, 33.2, 32.8, 33.0, 32.0, 31.8, 33.4, 31.2, 32.8, 32.0, 31.5, 32.0, 32.5, 32.6, 33.6, 33.0, 32.8, 32.2, 33.4, 32.2, 31.4, 33.0, 33.2, 32.8, 33.6, 34.0, 33.5, 33.8, 33.6, 34.2, 33.0]
tamil_lmdz_bc = [34.8, 35.0, 34.7, 34.8, 34.6, 34.8, 34.5, 34.7, 34.2, 34.1, 34.9, 33.9, 34.6, 34.2, 34.0, 34.2, 34.5, 34.6, 35.1, 34.8, 34.6, 34.3, 34.9, 34.3, 33.9, 34.7, 34.8, 34.6, 35.1, 35.3, 35.0, 35.2, 35.1, 35.4, 34.7]

# ---------------- Vidarbha ----------------
vidarbha_obs = [37.5, 39.8, 40.3, 39.0, 38.6, 39.2, 38.9, 38.6, 38.8, 39.0, 39.3, 38.7, 38.9, 39.1, 39.2, 38.8, 38.9, 39.4, 38.4, 36.6, 39.0, 40.0, 39.2, 38.5, 38.1, 39.8, 38.6, 39.0, 38.8, 38.0, 37.8, 39.5, 39.7, 39.5, 39.3]
vidarbha_access = [41.2, 43.8, 38.6, 39.8, 37.8, 40.2, 39.4, 38.0, 40.6, 39.2, 38.4, 40.0, 41.6, 41.2, 38.3, 39.5, 40.8, 41.4, 40.2, 39.6, 38.6, 39.4, 37.8, 38.7, 36.8, 38.5, 40.6, 41.0, 38.5, 39.6, 40.8, 38.0, 39.2, 41.6, 39.0]
vidarbha_access_bc = [39.4, 40.6, 38.6, 39.0, 38.2, 39.2, 38.9, 38.4, 39.4, 38.8, 38.5, 39.1, 39.8, 39.6, 38.4, 38.9, 39.5, 39.8, 39.2, 38.9, 38.5, 38.9, 38.2, 38.6, 37.8, 38.5, 39.4, 39.6, 38.5, 39.0, 39.5, 38.3, 38.8, 39.8, 38.6]
vidarbha_cnrm = [40.6, 40.8, 39.5, 38.4, 35.2, 39.8, 40.6, 38.6, 39.2, 39.8, 38.4, 40.8, 38.6, 39.2, 40.2, 39.5, 41.2, 38.8, 38.2, 43.6, 38.2, 39.8, 38.5, 39.0, 36.9, 38.0, 40.2, 40.6, 38.5, 36.8, 37.6, 38.6, 41.2, 39.8, 39.2]
vidarbha_cnrm_bc = [39.4, 39.5, 39.0, 38.5, 37.2, 39.1, 39.5, 38.6, 38.9, 39.1, 38.5, 39.5, 38.6, 38.9, 39.2, 38.9, 39.7, 38.7, 38.4, 40.8, 38.4, 39.1, 38.5, 38.8, 37.9, 38.3, 39.2, 39.4, 38.5, 37.8, 38.1, 38.6, 39.8, 39.1, 38.9]
vidarbha_ccsm4 = [37.2, 38.6, 36.4, 37.0, 38.8, 41.2, 43.0, 40.2, 38.4, 39.6, 41.0, 38.6, 39.4, 38.0, 34.2, 38.2, 41.6, 34.0, 39.8, 41.2, 38.4, 38.0, 42.0, 38.6, 33.6, 35.8, 36.4, 40.2, 38.6, 39.4, 40.4, 38.2, 39.0, 38.4, 40.2]
vidarbha_ccsm4_bc = [38.2, 38.8, 37.9, 38.1, 38.9, 39.8, 40.5, 39.4, 38.6, 39.1, 39.7, 38.7, 39.0, 38.4, 36.9, 38.5, 39.9, 36.8, 39.2, 39.8, 38.6, 38.4, 40.2, 38.7, 36.6, 37.6, 37.9, 39.4, 38.7, 39.0, 39.4, 38.5, 38.9, 38.6, 39.3]
vidarbha_gfdlcm3 = [37.8, 39.8, 35.0, 37.6, 39.4, 32.6, 38.6, 38.2, 38.8, 40.0, 33.6, 38.0, 37.0, 39.6, 36.0, 37.2, 40.6, 41.8, 38.4, 39.0, 40.8, 41.0, 37.2, 38.6, 37.2, 40.6, 38.2, 38.6, 42.6, 40.0, 39.4, 37.2, 36.6, 37.0, 37.1]
vidarbha_gfdlcm3_bc = [38.6, 39.5, 37.3, 38.5, 39.3, 36.4, 38.9, 38.7, 39.0, 39.6, 36.8, 38.6, 38.2, 39.4, 37.6, 38.3, 39.8, 40.4, 38.8, 39.1, 39.9, 40.0, 38.2, 38.9, 38.2, 39.8, 38.7, 38.9, 40.7, 39.6, 39.3, 38.3, 38.0, 38.2, 38.2]
vidarbha_mpi = [39.6, 40.8, 40.6, 39.4, 37.6, 42.6, 41.2, 34.8, 39.2, 41.6, 37.6, 38.2, 39.6, 38.4, 37.8, 38.0, 39.4, 36.4, 41.6, 40.4, 40.4, 40.2, 38.8, 38.6, 38.8, 41.8, 39.8, 40.0, 40.6, 38.9, 38.2, 40.4, 42.8, 40.0, 40.4]
vidarbha_mpi_bc = [39.2, 39.8, 39.7, 39.1, 38.3, 40.6, 39.9, 37.0, 38.9, 40.1, 38.3, 38.6, 39.2, 38.7, 38.4, 38.5, 39.1, 37.8, 40.1, 39.6, 39.6, 39.5, 38.9, 38.8, 38.9, 40.3, 39.3, 39.4, 39.7, 39.0, 38.6, 39.6, 40.6, 39.4, 39.6]
vidarbha_noresm = [38.2, 41.6, 38.8, 37.6, 39.0, 37.8, 40.2, 38.8, 37.4, 39.6, 36.4, 39.2, 40.6, 39.8, 38.6, 39.6, 40.0, 37.6, 43.4, 44.2, 36.2, 38.8, 38.2, 38.6, 34.4, 38.8, 40.6, 35.0, 39.8, 38.0, 40.4, 37.8, 41.2, 42.2, 37.0]
vidarbha_noresm_bc = [38.7, 40.2, 38.9, 38.4, 39.0, 38.5, 39.5, 38.9, 38.2, 39.2, 37.8, 39.1, 39.8, 39.4, 38.8, 39.2, 39.4, 38.4, 40.6, 41.0, 37.7, 38.8, 38.6, 38.8, 36.9, 38.9, 39.6, 37.2, 39.3, 38.6, 39.6, 38.5, 40.0, 40.4, 38.2]
vidarbha_gfdlesm = [30.0, 28.0, 30.2, 28.0, 29.5, 32.3, 29.2, 31.5, 29.8, 28.1, 29.8, 29.4, 30.3, 32.3, 29.0, 32.0, 29.2, 32.1, 30.4, 31.4, 27.9, 30.1, 30.1, 29.4, 30.3, 32.2, 31.3, 31.6, 30.7, 32.8, 27.8, 33.0, 29.5, 31.4, 29.1]
vidarbha_gfdlesm_bc = [38.4, 37.6, 38.5, 37.6, 38.2, 39.5, 38.1, 39.1, 38.4, 37.7, 38.4, 38.2, 38.6, 39.5, 38.0, 39.3, 38.1, 39.3, 38.6, 39.0, 37.6, 38.5, 38.5, 38.2, 38.6, 39.4, 39.0, 39.1, 38.7, 39.6, 37.5, 39.7, 38.2, 39.0, 38.0]
vidarbha_lmdz = [34.4, 35.4, 33.2, 32.5, 33.8, 33.8, 34.6, 34.0, 33.6, 32.5, 34.9, 33.0, 34.9, 34.5, 32.8, 31.8, 33.2, 35.8, 34.6, 35.2, 35.5, 35.5, 35.7, 33.9, 34.6, 34.6, 34.1, 35.2, 35.5, 34.8, 34.8, 35.9, 36.2, 33.8, 33.7]
vidarbha_lmdz_bc = [38.6, 39.1, 38.1, 37.7, 38.4, 38.4, 38.8, 38.5, 38.3, 37.8, 38.9, 38.0, 38.9, 38.7, 37.9, 37.4, 38.1, 39.3, 38.8, 39.0, 39.2, 39.2, 39.3, 38.4, 38.8, 38.8, 38.5, 39.1, 39.2, 38.9, 38.9, 39.4, 39.6, 38.4, 38.3]

# ---------------- West Rajasthan ----------------
wraj_obs = [37.3, 37.6, 37.9, 37.5, 37.1, 36.6, 37.4, 37.4, 37.0, 38.0, 37.5, 35.6, 35.6, 38.5, 38.6, 37.5, 37.6, 38.5, 38.0, 37.2, 37.0, 37.2, 37.5, 37.7, 37.4, 37.6, 35.9, 37.6, 38.0, 38.2, 37.2, 38.8, 38.2, 38.8, 37.8]
wraj_access = [39.8, 40.4, 39.2, 39.6, 38.8, 39.4, 40.2, 38.6, 39.8, 39.2, 38.4, 40.2, 40.6, 39.6, 39.0, 40.4, 39.6, 40.0, 40.2, 40.6, 39.8, 39.4, 40.0, 39.2, 38.6, 39.4, 38.0, 39.6, 39.8, 40.2, 40.8, 40.4, 41.6, 41.2, 40.6]
wraj_access_bc = [37.8, 38.0, 37.6, 37.8, 37.4, 37.6, 37.9, 37.3, 37.8, 37.6, 37.2, 37.9, 38.1, 37.7, 37.4, 38.0, 37.7, 37.9, 37.9, 38.1, 37.7, 37.6, 37.8, 37.5, 37.3, 37.6, 37.0, 37.7, 37.8, 37.9, 38.2, 38.0, 38.5, 38.3, 38.1]
wraj_cnrm = [40.2, 41.0, 39.6, 40.0, 38.4, 38.8, 39.6, 39.2, 40.0, 40.6, 39.2, 38.2, 40.4, 40.2, 39.8, 39.4, 38.6, 39.2, 40.0, 39.4, 38.6, 39.8, 38.4, 39.6, 38.2, 40.0, 41.4, 39.2, 40.2, 38.8, 39.6, 41.4, 40.0, 38.8, 41.0]
wraj_cnrm_bc = [38.0, 38.4, 37.8, 37.9, 37.2, 37.4, 37.8, 37.6, 37.9, 38.2, 37.6, 37.2, 38.1, 38.0, 37.8, 37.7, 37.3, 37.6, 37.9, 37.7, 37.3, 37.8, 37.2, 37.7, 37.1, 37.9, 38.5, 37.6, 38.0, 37.4, 37.7, 38.5, 37.9, 37.4, 38.3]
wraj_ccsm4 = [38.6, 39.2, 38.0, 39.8, 38.4, 40.4, 41.4, 39.6, 38.2, 38.8, 39.0, 38.4, 39.6, 40.0, 39.2, 38.6, 39.6, 40.2, 38.8, 39.2, 38.6, 39.0, 41.2, 39.4, 38.0, 38.4, 39.0, 39.8, 38.6, 39.2, 38.6, 38.8, 40.6, 38.4, 39.2]
wraj_ccsm4_bc = [37.4, 37.7, 37.2, 37.9, 37.3, 38.1, 38.5, 37.8, 37.2, 37.5, 37.6, 37.3, 37.8, 38.0, 37.6, 37.3, 37.8, 38.0, 37.5, 37.6, 37.3, 37.5, 38.4, 37.7, 37.1, 37.3, 37.5, 37.9, 37.3, 37.6, 37.3, 37.4, 38.2, 37.0, 37.6]
wraj_gfdlcm3 = [38.4, 38.2, 37.8, 39.0, 39.6, 38.6, 40.0, 39.6, 38.4, 41.0, 38.8, 37.4, 39.2, 40.4, 39.0, 38.8, 39.6, 40.2, 40.6, 40.4, 39.6, 40.2, 39.8, 38.8, 38.0, 39.4, 40.8, 40.2, 39.6, 40.0, 42.0, 41.2, 40.4, 40.0, 39.8]
wraj_gfdlcm3_bc = [37.4, 37.3, 37.1, 37.7, 37.9, 37.5, 38.1, 37.9, 37.4, 38.5, 37.6, 36.9, 37.7, 38.2, 37.6, 37.5, 37.9, 38.1, 38.3, 38.2, 37.9, 38.1, 37.9, 37.5, 37.1, 37.8, 38.4, 38.1, 37.9, 38.0, 38.8, 38.5, 38.2, 38.0, 37.9]
wraj_mpi = [39.2, 40.2, 39.4, 39.8, 38.8, 40.6, 39.6, 38.8, 39.4, 40.6, 40.2, 38.6, 39.2, 39.0, 39.6, 40.0, 39.2, 39.8, 41.4, 38.6, 39.2, 40.4, 39.6, 39.0, 39.4, 41.2, 40.2, 42.6, 40.4, 40.0, 39.4, 40.4, 41.6, 41.8, 40.6]
wraj_mpi_bc = [37.6, 38.0, 37.6, 37.8, 37.3, 38.1, 37.7, 35.8, 37.6, 38.1, 38.0, 37.2, 37.5, 37.4, 37.7, 37.9, 37.5, 37.8, 38.6, 37.2, 37.5, 38.0, 37.7, 37.4, 37.6, 38.4, 37.9, 38.9, 38.0, 37.9, 37.6, 38.0, 38.6, 38.7, 38.1]
wraj_noresm = [40.2, 39.8, 40.2, 39.2, 38.6, 39.0, 39.8, 38.6, 40.0, 39.4, 38.8, 40.4, 40.2, 39.2, 39.8, 40.8, 39.6, 40.2, 39.2, 42.4, 39.0, 39.6, 39.8, 40.0, 39.4, 38.4, 37.2, 39.8, 40.2, 38.8, 40.0, 40.2, 41.4, 41.6, 39.8]
wraj_noresm_bc = [38.0, 37.9, 38.0, 37.6, 37.3, 37.5, 37.8, 37.3, 37.9, 37.6, 37.4, 38.1, 38.0, 37.6, 36.2, 38.2, 37.7, 37.9, 37.6, 38.9, 37.5, 37.7, 37.8, 37.9, 37.6, 37.2, 36.6, 37.8, 38.0, 37.4, 37.9, 38.0, 38.5, 38.6, 37.8]
wraj_gfdlesm = [29.3, 27.9, 30.0, 29.7, 31.6, 30.3, 29.1, 28.9, 28.5, 28.3, 28.6, 28.8, 29.8, 29.8, 31.1, 30.2, 29.2, 30.0, 30.8, 31.8, 29.2, 30.0, 30.8, 31.8, 28.8, 31.6, 30.4, 32.0, 30.3, 30.3, 28.0, 30.8, 31.7, 30.6, 30.1]
wraj_gfdlesm_bc = [37.2, 36.6, 37.5, 37.4, 38.2, 37.6, 37.1, 37.0, 36.8, 36.7, 36.9, 36.9, 37.4, 37.4, 37.9, 37.6, 37.1, 37.5, 37.8, 38.2, 37.1, 37.5, 37.8, 38.2, 37.0, 38.1, 37.6, 38.3, 37.6, 37.6, 36.7, 37.8, 38.2, 37.7, 37.5]
wraj_lmdz = [32.2, 32.7, 31.3, 31.0, 32.3, 31.6, 32.6, 33.0, 32.6, 31.3, 33.0, 32.0, 32.6, 33.3, 31.2, 31.4, 32.3, 34.4, 32.5, 34.0, 33.6, 33.6, 34.2, 32.7, 34.3, 33.2, 32.3, 35.0, 34.3, 33.8, 33.5, 34.4, 34.2, 31.3, 32.7]
wraj_lmdz_bc = [37.0, 37.2, 36.6, 36.5, 37.1, 36.8, 37.2, 37.4, 37.2, 36.6, 37.4, 36.9, 37.2, 37.5, 36.6, 36.7, 37.1, 38.0, 37.2, 37.8, 37.6, 37.6, 37.9, 37.3, 37.9, 37.5, 37.1, 38.3, 37.9, 37.7, 37.6, 37.9, 37.9, 36.6, 37.3]

# ---------------- labels / styling ----------------
model_names = ["ACCESS 1.0", "CNRM-CM5", "CCSM4", "GFDL-CM3", "MPI-ESM-LR",
               "NorESM1-M", "GFDL-ESM2M", "LMDZ4"]
model_colors = ["#CC00CC", "#FF3333", "#FFB020", "#00CC00", "#1010FF",
                "#FF00CC", "#77AC30", "#C8501E"]
panel_titles = ["Assam & Meghalaya", "East M.P.", "Gujarat", "Jammu & Kashmir",
                "Odisha", "Tamilnadu", "Vidarbha", "West Rajasthan"]
y_ranges = [[20, 50], [20, 50], [20, 50], [-10, 50], [20, 50], [20, 50], [20, 50], [20, 50]]
y_ticks = [[20, 30, 40, 50], [20, 30, 40, 50], [20, 30, 40, 50], [0, 20, 40],
           [20, 30, 40, 50], [20, 30, 40, 50], [20, 30, 40, 50], [20, 30, 40, 50]]
x_ticks = [1980, 1990, 2000]
y_title = "Temperatue(<sup>0</sup>C)"
x_title = "Year"

panel_obs = [assam_obs, eastmp_obs, gujarat_obs, jk_obs, odisha_obs, tamil_obs, vidarbha_obs, wraj_obs]
panel_models = [
    [assam_access, assam_access_bc, assam_cnrm, assam_cnrm_bc, assam_ccsm4, assam_ccsm4_bc, assam_gfdlcm3, assam_gfdlcm3_bc,
     assam_mpi, assam_mpi_bc, assam_noresm, assam_noresm_bc, assam_gfdlesm, assam_gfdlesm_bc, assam_lmdz, assam_lmdz_bc],
    [eastmp_access, eastmp_access_bc, eastmp_cnrm, eastmp_cnrm_bc, eastmp_ccsm4, eastmp_ccsm4_bc, eastmp_gfdlcm3, eastmp_gfdlcm3_bc,
     eastmp_mpi, eastmp_mpi_bc, eastmp_noresm, eastmp_noresm_bc, eastmp_gfdlesm, eastmp_gfdlesm_bc, eastmp_lmdz, eastmp_lmdz_bc],
    [gujarat_access, gujarat_access_bc, gujarat_cnrm, gujarat_cnrm_bc, gujarat_ccsm4, gujarat_ccsm4_bc, gujarat_gfdlcm3, gujarat_gfdlcm3_bc,
     gujarat_mpi, gujarat_mpi_bc, gujarat_noresm, gujarat_noresm_bc, gujarat_gfdlesm, gujarat_gfdlesm_bc, gujarat_lmdz, gujarat_lmdz_bc],
    [jk_access, jk_access_bc, jk_cnrm, jk_cnrm_bc, jk_ccsm4, jk_ccsm4_bc, jk_gfdlcm3, jk_gfdlcm3_bc,
     jk_mpi, jk_mpi_bc, jk_noresm, jk_noresm_bc, jk_gfdlesm, jk_gfdlesm_bc, jk_lmdz, jk_lmdz_bc],
    [odisha_access, odisha_access_bc, odisha_cnrm, odisha_cnrm_bc, odisha_ccsm4, odisha_ccsm4_bc, odisha_gfdlcm3, odisha_gfdlcm3_bc,
     odisha_mpi, odisha_mpi_bc, odisha_noresm, odisha_noresm_bc, odisha_gfdlesm, odisha_gfdlesm_bc, odisha_lmdz, odisha_lmdz_bc],
    [tamil_access, tamil_access_bc, tamil_cnrm, tamil_cnrm_bc, tamil_ccsm4, tamil_ccsm4_bc, tamil_gfdlcm3, tamil_gfdlcm3_bc,
     tamil_mpi, tamil_mpi_bc, tamil_noresm, tamil_noresm_bc, tamil_gfdlesm, tamil_gfdlesm_bc, tamil_lmdz, tamil_lmdz_bc],
    [vidarbha_access, vidarbha_access_bc, vidarbha_cnrm, vidarbha_cnrm_bc, vidarbha_ccsm4, vidarbha_ccsm4_bc, vidarbha_gfdlcm3, vidarbha_gfdlcm3_bc,
     vidarbha_mpi, vidarbha_mpi_bc, vidarbha_noresm, vidarbha_noresm_bc, vidarbha_gfdlesm, vidarbha_gfdlesm_bc, vidarbha_lmdz, vidarbha_lmdz_bc],
    [wraj_access, wraj_access_bc, wraj_cnrm, wraj_cnrm_bc, wraj_ccsm4, wraj_ccsm4_bc, wraj_gfdlcm3, wraj_gfdlcm3_bc,
     wraj_mpi, wraj_mpi_bc, wraj_noresm, wraj_noresm_bc, wraj_gfdlesm, wraj_gfdlesm_bc, wraj_lmdz, wraj_lmdz_bc],
]

# ---------------- geometry (pixels) ----------------
W, H = 1070, 929
col_px = [(87, 454), (505, 854)]
row_px = [(35, 187), (247, 401), (462, 635), (701, 870)]
FONT = "Open Sans, Noto Sans, Liberation Sans, sans-serif"
TXT = "#262626"
AX = "#808080"

fig = go.Figure()
layout_axes = {}
annotations = []

for p in range(8):
    r, c = divmod(p, 2)
    n = p + 1
    xa = "x" if n == 1 else f"x{n}"
    ya = "y" if n == 1 else f"y{n}"
    show_leg = (p == 0)

    fig.add_trace(go.Scatter(
        x=years, y=panel_obs[p], mode="lines", name="Observed",
        line=dict(color="#000000", width=4), xaxis=xa, yaxis=ya,
        showlegend=show_leg))
    for m in range(8):
        raw = panel_models[p][2 * m]
        bc = panel_models[p][2 * m + 1]
        fig.add_trace(go.Scatter(
            x=years, y=raw, mode="lines", name=model_names[m],
            line=dict(color=model_colors[m], width=1.2), xaxis=xa, yaxis=ya,
            showlegend=show_leg))
        fig.add_trace(go.Scatter(
            x=years, y=bc, mode="lines", name="",
            line=dict(color=model_colors[m], width=1.1, dash="3px,2px"),
            xaxis=xa, yaxis=ya, showlegend=show_leg))

    x0, x1 = col_px[c]
    y0, y1 = row_px[r]
    xkey = "xaxis" if n == 1 else f"xaxis{n}"
    ykey = "yaxis" if n == 1 else f"yaxis{n}"
    layout_axes[xkey] = dict(
        domain=[x0 / W, x1 / W], anchor=ya, range=[1971, 2005],
        tickmode="array", tickvals=x_ticks, ticks="inside", ticklen=5,
        tickcolor=AX, showline=True, linecolor=AX, linewidth=1, mirror="ticks",
        showgrid=False, zeroline=False, ticklabelstandoff=5,
        tickfont=dict(family=FONT, size=20, color=TXT),
        title=dict(text=x_title if r == 3 else "", standoff=3,
                   font=dict(family=FONT, size=21, color=TXT)))
    layout_axes[ykey] = dict(
        domain=[1 - y1 / H, 1 - y0 / H], anchor=xa, range=y_ranges[p],
        tickmode="array", tickvals=y_ticks[p], ticks="inside", ticklen=5,
        tickcolor=AX, showline=True, linecolor=AX, linewidth=1, mirror="ticks",
        showgrid=False, zeroline=False, ticklabelstandoff=8,
        tickfont=dict(family=FONT, size=22, color=TXT),
        title=dict(text=y_title if c == 0 else "", standoff=3,
                   font=dict(family=FONT, size=22, color=TXT)))
    annotations.append(dict(
        text=f"<b>{panel_titles[p]}</b>", xref=f"{xa} domain", yref=f"{ya} domain",
        x=0.5, y=1, xanchor="center", yanchor="bottom", showarrow=False,
        yshift=-3, font=dict(family=FONT, size=19, color="#000000")))

fig.update_layout(
    width=W, height=H, margin=dict(l=0, r=0, t=0, b=0),
    paper_bgcolor="white", plot_bgcolor="white",
    showlegend=True,
    legend=dict(x=898 / W, y=1 - 84 / H, xanchor="left", yanchor="top",
                font=dict(family=FONT, size=16.5, color="#000000"),
                bgcolor="rgba(0,0,0,0)", tracegroupgap=0, traceorder="normal"),
    annotations=annotations,
    **layout_axes,
)

fig.write_html("out.html")
